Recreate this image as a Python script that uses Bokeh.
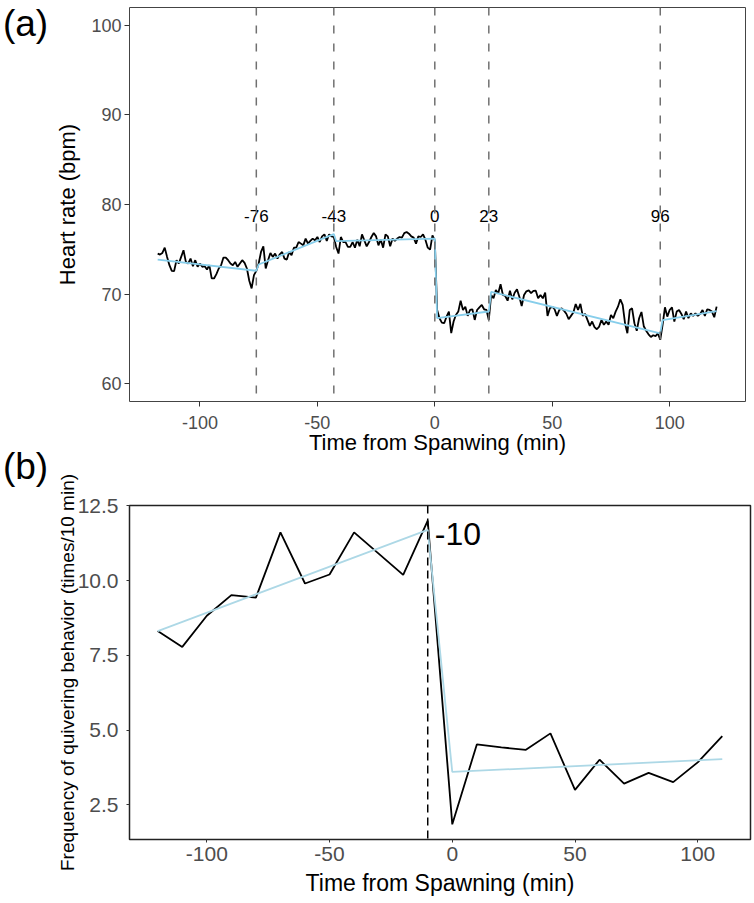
from bokeh.plotting import figure
from bokeh.models import FixedTicker, Span, Range1d
from bokeh.layouts import column, row
from bokeh.embed import file_html
from bokeh.resources import INLINE
from bokeh.core.properties import value

FONT = "Liberation Sans"
TICK_GRAY = "#4D4D4D"

# ---------------- panel (a): heart rate ----------------
hr_time = list(range(-118, 121))
heart_rate = [
    74.52, 74.41, 74.59, 75.18, 74.15, 73.22, 72.59, 72.56, 73.78, 73.41,   # -118..-109
    74.15, 74.89, 73.59, 73.41, 73.96, 73.11, 73.78, 73.04, 73.41, 73.04,   # -108..-99
    73.11, 72.74, 73.22, 71.74, 71.74, 72.22, 72.85, 73.22, 74.07, 74.07,   # -98..-89
    73.78, 73.41, 73.22, 73.59, 73.04, 73.41, 73.78, 73.48, 72.85, 71.48,   # -88..-79
    70.63, 72.11, 72.59, 73.41, 74.70, 75.33, 72.85, 73.78, 74.59, 74.15,   # -78..-69
    74.52, 73.96, 74.44, 74.70, 73.96, 73.85, 74.70, 74.33, 75.18, 75.18,   # -68..-59
    75.81, 75.63, 75.44, 76.19, 75.63, 75.93, 76.19, 76.00, 76.37, 75.81,   # -58..-49
    76.44, 76.67, 75.93, 76.67, 76.44, 76.37, 75.26, 74.52, 76.37, 75.81,   # -48..-39
    75.81, 75.26, 75.26, 75.81, 75.18, 76.07, 75.33, 76.67, 76.00, 75.33,   # -38..-29
    75.81, 76.37, 76.81, 76.44, 75.44, 76.07, 75.18, 76.67, 76.44, 75.33,   # -28..-19
    76.19, 75.93, 76.19, 76.37, 76.30, 76.81, 76.93, 76.74, 76.44, 76.30,   # -18..-9
    75.63, 76.44, 76.37, 76.67, 76.07, 75.18, 74.96, 76.56, 76.00, 68.22,   # -8..1
    67.30, 66.81, 66.74, 67.48, 68.04, 65.63, 66.93, 67.67, 68.04, 69.26,   # 2..11
    68.22, 68.59, 67.56, 68.22, 68.30, 67.11, 68.22, 68.52, 68.78, 68.30,   # 12..21
    68.22, 67.11, 69.89, 69.52, 70.44, 70.07, 71.11, 69.89, 69.78, 69.26,   # 22..31
    70.37, 69.41, 70.15, 70.52, 69.70, 68.67, 69.89, 70.30, 70.40, 70.10,   # 32..41
    70.35, 70.37, 69.52, 69.90, 69.52, 70.15, 67.56, 68.41, 68.59, 68.30,   # 42..51
    67.56, 68.22, 68.41, 68.15, 67.80, 67.19, 67.56, 67.93, 68.89, 68.22,   # 52..61
    68.90, 67.56, 67.78, 67.11, 66.45, 66.93, 66.30, 66.07, 66.37, 67.11,   # 62..71
    66.56, 66.93, 66.56, 67.67, 67.30, 68.04, 68.59, 69.41, 68.78, 66.74,   # 72..81
    65.63, 68.22, 68.41, 66.74, 65.90, 67.30, 68.00, 66.40, 65.90, 65.50,   # 82..91
    65.20, 65.40, 65.30, 65.60, 64.89, 66.56, 68.52, 67.48, 68.22, 68.52,   # 92..101
    66.93, 68.04, 68.22, 67.78, 67.19, 68.04, 67.30, 67.85, 67.56, 67.85,   # 102..111
    67.56, 67.78, 68.22, 67.56, 68.30, 68.22, 68.04, 67.41, 68.59,          # 112..120
]
fit_time = [-118, -76, -75, -43, -42, 0, 1, 23, 24, 96, 97, 120]
fit_rate = [73.85, 72.6, 73.3, 76.7, 75.9, 76.2, 67.3, 68.05, 70.25, 65.6, 67.1, 68.1]
change_points = [-76, -43, 0, 23, 96]
change_labels = ["-76", "-43", "0", "23", "96"]
change_label_level = 78.67
a_xticks = [-100, -50, 0, 50, 100]
a_xtick_labels = ["-100", "-50", "0", "50", "100"]
a_yticks = [60, 70, 80, 90, 100]
a_ytick_labels = ["60", "70", "80", "90", "100"]

# ---------------- panel (b): quivering frequency ----------------
q_time = [-120, -110, -100, -90, -80, -70, -60, -50, -40, -30, -20, -10,
          0, 10, 20, 30, 40, 50, 60, 70, 80, 90, 100, 110]
q_freq = [8.31, 7.78, 8.82, 9.51, 9.43, 11.61, 9.90, 10.20, 11.61, 10.90, 10.19, 12.00,
          1.85, 4.52, 4.42, 4.34, 4.89, 3.00, 4.01, 3.21, 3.57, 3.26, 3.92, 4.80]
q_fit_time = [-120, -10, 0, 110]
q_fit_freq = [8.31, 11.69, 3.60, 4.03]
q_change = -10
q_change_label = "-10"
q_label_level = 11.56
b_xticks = [-100, -50, 0, 50, 100]
b_xtick_labels = ["-100", "-50", "0", "50", "100"]
b_yticks = [2.5, 5.0, 7.5, 10.0, 12.5]
b_ytick_labels = ["2.5", "5.0", "7.5", "10.0", "12.5"]

panel_tags = ["(a)", "(b)"]

TAG_W = 52
ROW_H = 457


def style(p, xt, xl, yt, yl, tick_size, tick_out, frame_color, frame_width):
    p.xgrid.visible = False
    p.ygrid.visible = False
    p.outline_line_color = frame_color
    p.outline_line_width = frame_width
    p.xaxis.ticker = FixedTicker(ticks=xt)
    p.xaxis.major_label_overrides = dict(zip(xt, xl))
    p.yaxis.ticker = FixedTicker(ticks=yt)
    p.yaxis.major_label_overrides = dict(zip(yt, yl))
    for ax in (p.xaxis[0], p.yaxis[0]):
        ax.axis_line_color = None
        ax.major_tick_in = 0
        ax.major_tick_out = tick_out
        ax.major_tick_line_color = "#333333"
        ax.major_tick_line_width = 1
        ax.minor_tick_line_color = None
        ax.major_label_text_font = FONT
        ax.major_label_text_font_size = tick_size
        ax.major_label_text_color = TICK_GRAY
        ax.axis_label_text_font = FONT
        ax.axis_label_text_font_style = "normal"
        ax.axis_label_text_color = "black"


def tag_figure(tag, middle):
    f = figure(width=TAG_W, height=ROW_H, output_backend="svg", toolbar_location=None,
               title=None,
               x_range=Range1d(0, TAG_W), y_range=Range1d(ROW_H, 0),
               x_axis_type=None, y_axis_type=None,
               min_border_left=0, min_border_right=0, min_border_top=0, min_border_bottom=0,
               outline_line_color=None, frame_align=False)
    f.background_fill_alpha = 0
    f.border_fill_alpha = 0
    f.text(x=[2.4], y=[middle], text=[tag], text_font=value(FONT),
           text_font_size="37px", text_color="black",
           text_align="left", text_baseline="middle")
    return f


# ---------- figure (a)
p1 = figure(width=754 - TAG_W, height=ROW_H, output_backend="svg", toolbar_location=None,
            x_range=Range1d(-130, 132.3), y_range=Range1d(58, 102), frame_align=False,
            min_border_left=128 - TAG_W, min_border_right=9, min_border_top=7,
            min_border_bottom=56,
            x_axis_label="Time from Spanwing (min)", y_axis_label="Heart rate (bpm)")
style(p1, a_xticks, a_xtick_labels, a_yticks, a_ytick_labels, "18px", 5, "#444444", 1)
p1.xaxis.major_label_standoff = 9
p1.yaxis.major_label_standoff = 3
p1.xaxis.axis_label_standoff = -2
p1.yaxis.axis_label_standoff = 8
p1.xaxis.axis_label_text_font_size = "22px"
p1.yaxis.axis_label_text_font_size = "22px"

p1.line(hr_time, heart_rate, line_color="black", line_width=1.8)
p1.line(fit_time, fit_rate, line_color="#87CEEB", line_width=1.8)
for cp in change_points:
    p1.add_layout(Span(location=cp, dimension="height", line_color="#707070",
                       line_dash="8 10", line_width=1.5))
p1.text(x=change_points, y=[change_label_level] * len(change_points), text=change_labels,
        text_font=value(FONT), text_font_size="17px", text_color="black",
        text_align="center", text_baseline="middle")

# ---------- figure (b)
p2 = figure(width=754 - TAG_W, height=ROW_H, output_backend="svg", toolbar_location=None,
            x_range=Range1d(-131.5, 121.5), y_range=Range1d(1.3425, 12.5075), frame_align=False,
            min_border_left=129 - TAG_W, min_border_right=4, min_border_top=60,
            min_border_bottom=63,
            x_axis_label="Time from Spawning (min)",
            y_axis_label="Frequency of quivering behavior (times/10 min)")
p2.border_fill_alpha = 0
style(p2, b_xticks, b_xtick_labels, b_yticks, b_ytick_labels, "21px", 3, "#222222", 1.5)
p2.xaxis.major_label_standoff = 4
p2.yaxis.major_label_standoff = 8
p2.xaxis.axis_label_standoff = 6
p2.yaxis.axis_label_standoff = -3
p2.xaxis.axis_label_text_font_size = "23px"
p2.yaxis.axis_label_text_font_size = "19px"

p2.line(q_time, q_freq, line_color="black", line_width=1.8)
p2.line(q_fit_time, q_fit_freq, line_color="#ADD8E6", line_width=1.8)
p2.add_layout(Span(location=q_change, dimension="height", line_color="black",
                   line_dash="8 5", line_width=1.5))
p2.text(x=[q_change], y=[q_label_level], text=[q_change_label], x_offset=7,
        text_font=value(FONT), text_font_size="32px", text_color="black",
        text_align="left", text_baseline="middle")

row_a = row(tag_figure(panel_tags[0], 22.7), p1, spacing=0)
row_b = row(tag_figure(panel_tags[1], 20.7), p2, spacing=0)
row_b.margin = (-12, 0, 0, 0)

layout = column(row_a, row_b, spacing=0)
open("out.html", "w").write(file_html(layout, INLINE))
